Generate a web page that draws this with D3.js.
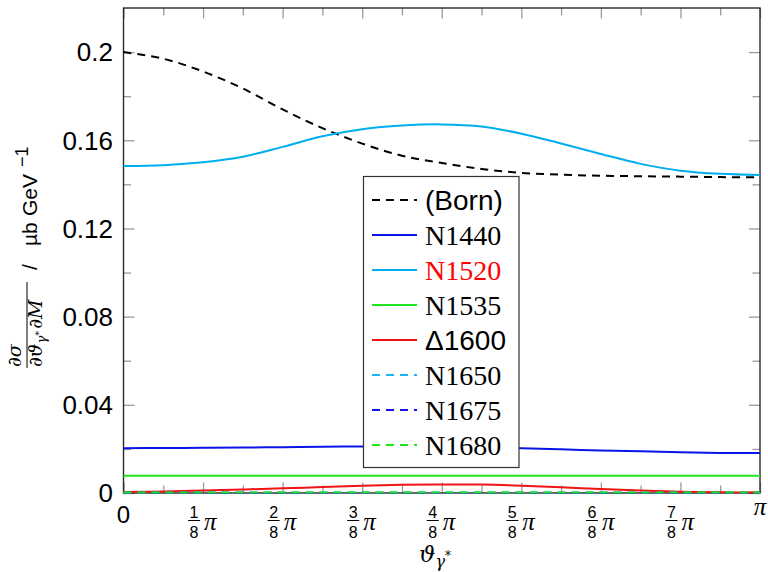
<!DOCTYPE html>
<html>
<head>
<meta charset="utf-8">
<script src="https://cdn.jsdelivr.net/npm/d3@7/dist/d3.min.js"></script>
<style>
  html, body { margin: 0; padding: 0; background: #fff; }
  svg { display: block; }
</style>
</head>
<body>
<svg id="chart" width="768" height="572"></svg>
<script>
// Angle grid: theta = k * pi / 16, k = 0..16
const steps = d3.range(17);
const theta = steps.map(k => k * Math.PI / 16);

// Differential cross sections (µb GeV^-1) on the theta grid
const born  = [0.2000, 0.1970, 0.1912, 0.1835, 0.1740, 0.1655, 0.1585, 0.1530, 0.1497, 0.1470, 0.1452, 0.1444, 0.1439, 0.1437, 0.1435, 0.1433, 0.1432];
const n1440 = [0.0203, 0.0204, 0.0205, 0.0206, 0.0208, 0.0210, 0.0211, 0.0212, 0.0210, 0.0207, 0.0203, 0.0198, 0.0193, 0.0189, 0.0185, 0.0182, 0.0181];
const n1520 = [0.1483, 0.1487, 0.1500, 0.1525, 0.1570, 0.1618, 0.1650, 0.1667, 0.1672, 0.1663, 0.1630, 0.1585, 0.1538, 0.1493, 0.1462, 0.1448, 0.1443];
const n1535 = [0.0078, 0.0078, 0.0078, 0.0078, 0.0078, 0.0078, 0.0078, 0.0078, 0.0078, 0.0078, 0.0078, 0.0078, 0.0078, 0.0078, 0.0078, 0.0078, 0.0078];
const d1600 = [0.0005, 0.0007, 0.0011, 0.0016, 0.0021, 0.0027, 0.0033, 0.0037, 0.0039, 0.0038, 0.0033, 0.0026, 0.0018, 0.0011, 0.0006, 0.0003, 0.0003];
const n1650 = [0.0001, 0.0001, 0.0001, 0.0001, 0.0001, 0.0001, 0.0001, 0.0001, 0.0001, 0.0001, 0.0001, 0.0001, 0.0001, 0.0001, 0.0001, 0.0001, 0.0001];
const n1675 = [0.0001, 0.0001, 0.0001, 0.0001, 0.0001, 0.0001, 0.0001, 0.0001, 0.0001, 0.0001, 0.0001, 0.0001, 0.0001, 0.0001, 0.0001, 0.0001, 0.0001];
const n1680 = [0.0002, 0.0002, 0.0002, 0.0002, 0.0002, 0.0002, 0.0002, 0.0002, 0.0002, 0.0002, 0.0002, 0.0002, 0.0002, 0.0002, 0.0002, 0.0002, 0.0002];

const seriesNames = ["(Born)", "N1440", "N1520", "N1535", "\u03941600", "N1650", "N1675", "N1680"];
const seriesValues = [born, n1440, n1520, n1535, d1600, n1650, n1675, n1680];

// Tick labels
const yTicks = [0, 0.04, 0.08, 0.12, 0.16, 0.2];
const yTickLabels = ["0", "0.04", "0.08", "0.12", "0.16", "0.2"];
const xFracNumerators = [1, 2, 3, 4, 5, 6, 7];

// Styling per series
const styles = [
  { color: "#000000", dash: "8,6", sans: true,  textColor: "#000" },
  { color: "#0a14e6", dash: null,  sans: false, textColor: "#000" },
  { color: "#00aeef", dash: null,  sans: false, textColor: "#ff0000" },
  { color: "#1ee61e", dash: null,  sans: false, textColor: "#000" },
  { color: "#f01414", dash: null,  sans: true,  textColor: "#000" },
  { color: "#1eb4f0", dash: "8,6", sans: false, textColor: "#000" },
  { color: "#1414f0", dash: "8,6", sans: false, textColor: "#000" },
  { color: "#1ee61e", dash: "8,6", sans: false, textColor: "#000" }
];

const svg = d3.select("#chart");
const L = 123.5, R = 760, T = 8, B = 493;

const x = d3.scaleLinear().domain([0, Math.PI]).range([L, R]);
const y = d3.scaleLinear().domain([0, 0.22]).range([B, T]);

const SANS = "Liberation Sans, Arial, sans-serif";
const SERIF = "Liberation Serif, Times New Roman, serif";
const MATH = "DejaVu Serif, serif";

// Inside ticks on all four sides: majors and minors
const tickColor = "#9a9a9a";
const xMajor = d3.range(9).map(k => k * Math.PI / 8);
const xMinor = d3.range(8).map(k => (2 * k + 1) * Math.PI / 16);
const yMinor = [0.02, 0.06, 0.10, 0.14, 0.18];

function tickAxis(axisFn, scale, values, size, tx, ty) {
  const g = svg.append("g")
    .attr("transform", `translate(${tx},${ty})`)
    .call(axisFn(scale).tickValues(values).tickSize(size).tickFormat(""));
  g.select(".domain").remove();
  g.selectAll("line").attr("stroke", tickColor).attr("stroke-width", 1.3);
}
tickAxis(d3.axisBottom, x, xMajor, -10.5, 0, B);
tickAxis(d3.axisBottom, x, xMinor, -7.5, 0, B);
tickAxis(d3.axisTop, x, xMajor, -10.5, 0, T);
tickAxis(d3.axisTop, x, xMinor, -7.5, 0, T);
tickAxis(d3.axisLeft, y, yTicks, -11, L, 0);
tickAxis(d3.axisLeft, y, yMinor, -7.5, L, 0);
tickAxis(d3.axisRight, y, yTicks, -11, R, 0);
tickAxis(d3.axisRight, y, yMinor, -7.5, R, 0);

// Frame
svg.append("rect")
  .attr("x", L).attr("y", T).attr("width", R - L).attr("height", B - T)
  .attr("fill", "none").attr("stroke", "#2a2a2a").attr("stroke-width", 1.4);

// Curves
const line = d3.line()
  .x((d, i) => x(theta[i]))
  .y(d => y(d))
  .curve(d3.curveCatmullRom.alpha(0.5));

seriesValues.forEach((vals, i) => {
  svg.append("path")
    .datum(vals)
    .attr("d", line)
    .attr("fill", "none")
    .attr("stroke", styles[i].color)
    .attr("stroke-width", 2)
    .attr("stroke-dasharray", styles[i].dash);
});

// Y tick labels
svg.append("g").selectAll("text")
  .data(yTicks)
  .join("text")
  .attr("x", 113)
  .attr("y", d => y(d) + 9.3)
  .attr("text-anchor", "end")
  .attr("font-family", SANS)
  .attr("font-size", 26)
  .attr("fill", "#000")
  .text((d, i) => yTickLabels[i]);

// X tick labels: 0, k/8 pi, pi
svg.append("text")
  .attr("x", x(0)).attr("y", 523)
  .attr("text-anchor", "middle")
  .attr("font-family", SANS).attr("font-size", 24)
  .text("0");

const frac = svg.append("g").selectAll("g")
  .data(xFracNumerators)
  .join("g")
  .attr("transform", d => `translate(${x(d * Math.PI / 8)},0)`);
frac.append("text")
  .attr("x", -9).attr("y", 517.5)
  .attr("text-anchor", "middle")
  .attr("font-family", SANS).attr("font-size", 16)
  .text(d => d);
frac.append("line")
  .attr("x1", -15).attr("x2", -3)
  .attr("y1", 520.5).attr("y2", 520.5)
  .attr("stroke", "#000").attr("stroke-width", 1);
frac.append("text")
  .attr("x", -9).attr("y", 538)
  .attr("text-anchor", "middle")
  .attr("font-family", SANS).attr("font-size", 16)
  .text("8");
frac.append("text")
  .attr("x", 1).attr("y", 530)
  .attr("font-family", SERIF).attr("font-style", "italic").attr("font-size", 25)
  .text("\u03c0");

svg.append("text")
  .attr("x", x(Math.PI)).attr("y", 515)
  .attr("text-anchor", "middle")
  .attr("font-family", SERIF).attr("font-style", "italic").attr("font-size", 25)
  .text("\u03c0");

// X axis title
const xt = svg.append("text")
  .attr("x", 419).attr("y", 562)
  .attr("font-family", MATH).attr("font-style", "italic").attr("font-size", 23);
xt.append("tspan").text("\u03d1");
xt.append("tspan").attr("dy", 5).attr("font-size", 16).text("\u03b3");
xt.append("tspan").attr("dy", -7).attr("font-size", 12).attr("font-style", "normal").text("*");

// Y axis title: fraction followed by unit, rotated (local x runs upward)
const yt = svg.append("g").attr("transform", "translate(0,251) rotate(-90)");
yt.append("text")
  .attr("x", -116).attr("y", 21)
  .attr("font-family", MATH).attr("font-style", "italic").attr("font-size", 19)
  .text("\u2202\u03c3");
yt.append("line")
  .attr("x1", -117).attr("x2", -31)
  .attr("y1", 27).attr("y2", 27)
  .attr("stroke", "#000").attr("stroke-width", 1);
const den = yt.append("text")
  .attr("x", -116).attr("y", 42)
  .attr("font-family", MATH).attr("font-style", "italic").attr("font-size", 19);
den.append("tspan").text("\u2202\u03d1");
den.append("tspan").attr("dy", 4).attr("font-size", 13).text("\u03b3");
den.append("tspan").attr("dy", -4).attr("font-size", 10).attr("font-style", "normal").text("*");
den.append("tspan").attr("dy", 0).attr("dx", 2).attr("font-size", 19).text("\u2202M");
const unit = yt.append("g").attr("font-family", SANS).attr("font-size", 21);
unit.append("text").attr("x", -19).attr("y", 37).text("/");
unit.append("text").attr("x", 5).attr("y", 37).text("\u00b5b");
unit.append("text").attr("x", 35).attr("y", 37).text("GeV");
unit.append("text").attr("x", 84).attr("y", 28).attr("font-size", 18).text("\u22121");

// Legend
const lg = svg.append("g");
lg.append("rect")
  .attr("x", 363.5).attr("y", 176.5).attr("width", 155.5).attr("height", 291)
  .attr("fill", "#fff").attr("stroke", "#333").attr("stroke-width", 1.2);
const item = lg.selectAll("g.item")
  .data(seriesNames)
  .join("g")
  .attr("class", "item")
  .attr("transform", (d, i) => `translate(0,${200 + 35 * i})`);
item.append("line")
  .attr("x1", 372).attr("x2", 417)
  .attr("y1", 0).attr("y2", 0)
  .attr("stroke", (d, i) => styles[i].color)
  .attr("stroke-width", 2)
  .attr("stroke-dasharray", (d, i) => styles[i].dash);
item.append("text")
  .attr("x", 425).attr("y", 9.5)
  .attr("font-family", (d, i) => styles[i].sans ? SANS : SERIF)
  .attr("font-size", 28)
  .attr("fill", (d, i) => styles[i].textColor)
  .text(d => d);
</script>
</body>
</html>
